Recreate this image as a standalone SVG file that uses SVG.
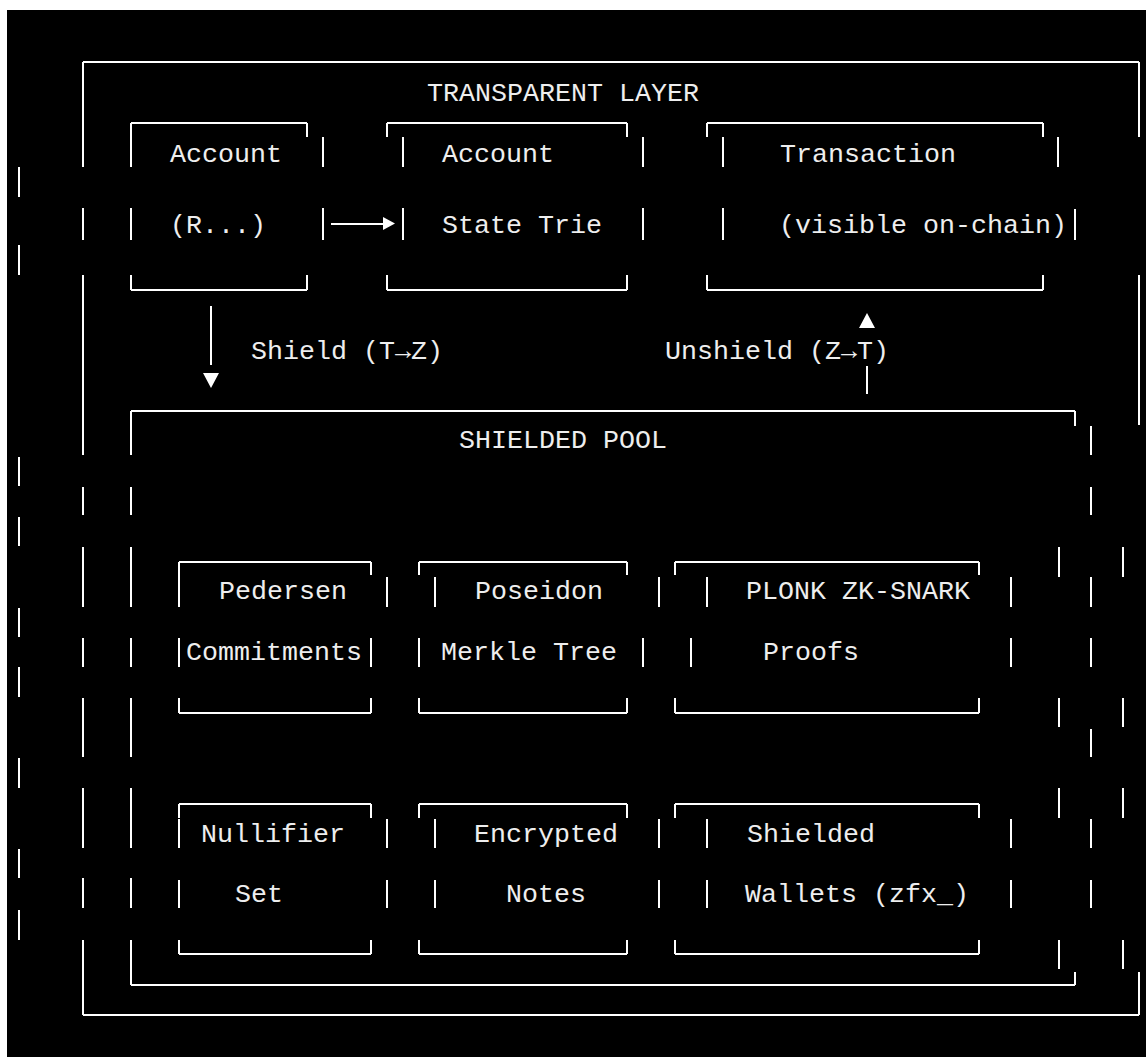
<svg xmlns="http://www.w3.org/2000/svg" width="1146" height="1057" viewBox="0 0 1146 1057">
<style>
.ln{stroke:#ffffff;stroke-width:2;fill:none}
.t{font-family:"Liberation Mono","DejaVu Sans Mono",monospace;font-size:26.67px;fill:#eeeeee}
.ah{fill:#ffffff}
</style>
<rect x="0" y="0" width="1146" height="1057" fill="#ffffff"/>
<rect x="7" y="10" width="1139" height="1047" fill="#000000"/>

<g id="transparent-layer">
<path class="ln" d="M83 62H1139M83 1015H1139
M83 62V167M83 208V240M83 275V455M83 487V515M83 547V607M83 638V667M83 698V757M83 788V848M83 878V908M83 940V1015
M1139 62V137M1139 275V425M1139 972V1015
M1123 547V577M1123 698V727M1123 788V818M1123 940V969
M19 167V197M19 245V275M19 457V486M19 517V546M19 608V637M19 667V697M19 758V788M19 849V878M19 910V940"/>
<text class="t" x="427" y="101">TRANSPARENT LAYER</text>
</g>

<g id="account">
<path class="ln" d="M131 123H307M131 123V167M307 123V137M131 290H307M131 275V290M307 275V290
M131 208V240M323 137V167M323 208V240"/>
<text class="t" x="170" y="162">Account</text>
<text class="t" x="170" y="233">(R...)</text>
</g>

<g id="state-trie">
<path class="ln" d="M387 123H627M387 123V137M627 123V137M387 290H627M387 275V290M627 275V290
M403 137V167M403 208V240M643 137V167M643 208V240"/>
<text class="t" x="442" y="162">Account</text>
<text class="t" x="442" y="233">State Trie</text>
</g>

<g id="transaction">
<path class="ln" d="M707 123H1043M707 123V137M1043 123V137M707 290H1043M707 275V290M1043 275V290
M723 137V167M723 208V240M1058 137V167M1075 209V240"/>
<text class="t" x="780" y="162">Transaction</text>
<text class="t" x="779" y="233">(visible on-chain)</text>
</g>

<g id="shielded-pool">
<path class="ln" d="M131 411H1075M1075 411V426M131 985H1075M1075 972V985
M131 411V455M131 487V515M131 547V607M131 638V667M131 698V757M131 788V848M131 878V908M131 940V985
M1091 426V455M1091 487V515M1091 577V607M1091 638V667M1091 729V757M1091 819V848M1091 880V908
M1059 547V577M1059 698V727M1059 788V818M1059 940V969"/>
<text class="t" x="459" y="448">SHIELDED POOL</text>
</g>

<g id="pedersen">
<path class="ln" d="M179 562H371M179 562V607M371 562V575M179 713H371M179 698V713M371 698V713
M179 638V667M371 638V667M387 577V607"/>
<text class="t" x="219" y="599">Pedersen</text>
<text class="t" x="186" y="660">Commitments</text>
</g>

<g id="poseidon">
<path class="ln" d="M419 562H627M419 562V575M627 562V575M419 713H627M419 698V713M627 698V713
M435 577V607M659 577V607M419 638V667M643 638V667"/>
<text class="t" x="475" y="599">Poseidon</text>
<text class="t" x="441" y="660">Merkle Tree</text>
</g>

<g id="plonk">
<path class="ln" d="M675 562H979M675 562V575M979 562V575M675 713H979M675 698V713M979 698V713
M707 577V607M1011 577V607M691 638V667M1011 638V667"/>
<text class="t" x="746" y="599">PLONK ZK-SNARK</text>
<text class="t" x="763" y="660">Proofs</text>
</g>

<g id="nullifier">
<path class="ln" d="M179 804H371M179 804V818M371 804V818M179 954H371M179 940V954M371 940V954
M179 819V848M179 880V908M387 819V848M387 880V908"/>
<text class="t" x="201" y="842">Nullifier</text>
<text class="t" x="235" y="902">Set</text>
</g>

<g id="encrypted-notes">
<path class="ln" d="M419 804H627M419 804V818M627 804V818M419 954H627M419 940V954M627 940V954
M435 819V848M435 880V908M659 819V848M659 880V908"/>
<text class="t" x="474" y="842">Encrypted</text>
<text class="t" x="506" y="902">Notes</text>
</g>

<g id="shielded-wallets">
<path class="ln" d="M675 804H979M675 804V818M979 804V818M675 954H979M675 940V954M979 940V954
M707 819V848M707 880V908M1011 819V848M1011 880V908"/>
<text class="t" x="747" y="842">Shielded</text>
<text class="t" x="745" y="902">Wallets (zfx_)</text>
</g>

<g id="connectors">
<path class="ln" d="M331 224H384"/>
<polygon class="ah" points="383,217 395,223.5 383,230"/>
<path class="ln" d="M211 306V365"/>
<polygon class="ah" points="203,373 219,373 211,388"/>
<text class="t" x="251" y="359">Shield (T→Z)</text>
<path class="ln" d="M867 366V394"/>
<polygon class="ah" points="867,313 875,328 859,328"/>
<text class="t" x="665" y="359">Unshield (Z→T)</text>
</g>
</svg>
